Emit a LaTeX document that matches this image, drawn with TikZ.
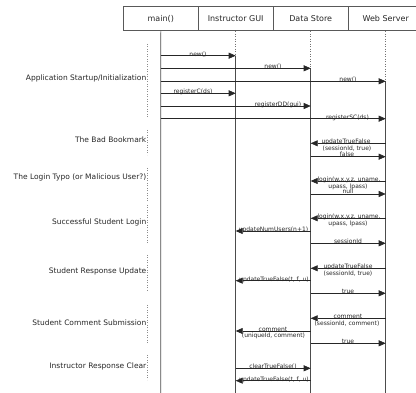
\documentclass[tikz,border=0pt]{standalone}
\usepackage{fontspec}
\setmainfont{DejaVu Sans}
\usetikzlibrary{arrows.meta}
\begin{document}
\begin{tikzpicture}[x=1pt,y=-1pt,
  hdr/.style={draw=black!65, line width=0.8pt, minimum width=75pt, minimum height=24pt, inner sep=0pt, font=\fontsize{8}{9}\selectfont, text=black!85},
  grp/.style={anchor=east, inner sep=0pt, font=\fontsize{7.5}{8}\selectfont, text=black!85},
  grpline/.style={draw=black!45, dotted, line width=0.5pt},
  life/.style={draw=black!70, line width=0.6pt},
  lifed/.style={draw=black!55, dotted, line width=0.5pt},
  msg/.style={draw=black!85, line width=0.6pt, -{Triangle[length=7pt,width=6pt]}},
  lbl/.style={font=\fontsize{6}{6.5}\selectfont, inner sep=0pt, anchor=base, text=black!85},
  lblb/.style={font=\fontsize{6}{6.5}\selectfont, inner sep=0pt, anchor=north, text=black!85}]
\useasboundingbox (0,0) rectangle (416,393);
\clip (0,0) rectangle (416,393);

% headers
\node[hdr] (hmain) at (160.8,18.7) {main()};
\node[hdr] (hgui)  at (235.7,18.7) {Instructor GUI};
\node[hdr] (hds)   at (310.7,18.7) {Data Store};
\node[hdr] (hws)   at (385.7,18.7) {Web Server};

% lifeline coordinates
\coordinate (Lm) at (160.7,393);
\coordinate (Lg0) at (235.7,55.7);  \coordinate (Lg) at (235.7,393);
\coordinate (Ld0) at (310.7,68.3);  \coordinate (Ld) at (310.7,393);
\coordinate (Lw0) at (385.7,81.3);  \coordinate (Lw) at (385.7,393);
\draw[life] (hmain.south) -- (Lm);
\draw[lifed] (hgui.south) -- (Lg0); \draw[life] (Lg0) -- (Lg);
\draw[lifed] (hds.south) -- (Ld0);  \draw[life] (Ld0) -- (Ld);
\draw[lifed] (hws.south) -- (Lw0);  \draw[life] (Lw0) -- (Lw);

% group labels
\node[grp] (g1) at (146.5,78.3) {Application Startup/Initialization};
\coordinate (g1a) at (147.5,44); \coordinate (g1b) at (147.5,117);
\draw[grpline] (g1a) -- (g1b);
\node[grp] (g2) at (146.5,140) {The Bad Bookmark};
\coordinate (g2a) at (147.5,130); \coordinate (g2b) at (147.5,155);
\draw[grpline] (g2a) -- (g2b);
\node[grp] (g3) at (146.5,177.7) {The Login Typo (or Malicious User?)};
\coordinate (g3a) at (147.5,168); \coordinate (g3b) at (147.5,202);
\draw[grpline] (g3a) -- (g3b);
\node[grp] (g4) at (146.5,222.7) {Successful Student Login};
\coordinate (g4a) at (147.5,205); \coordinate (g4b) at (147.5,243);
\draw[grpline] (g4a) -- (g4b);
\node[grp] (g5) at (146.5,271.7) {Student Response Update};
\coordinate (g5a) at (147.5,255); \coordinate (g5b) at (147.5,292);
\draw[grpline] (g5a) -- (g5b);
\node[grp] (g6) at (146.5,322.7) {Student Comment Submission};
\coordinate (g6a) at (147.5,305); \coordinate (g6b) at (147.5,343);
\draw[grpline] (g6a) -- (g6b);
\node[grp] (g7) at (146.5,366.7) {Instructor Response Clear};
\coordinate (g7a) at (147.5,355); \coordinate (g7b) at (147.5,380);
\draw[grpline] (g7a) -- (g7b);

% messages: startup
\coordinate (a1) at (160.7,55.7);  \coordinate (b1) at (235.7,55.7);
\draw[msg] (a1) -- (b1); \node[lbl] (t1) at (198,56.2) {new()};
\coordinate (a2) at (160.7,68.3);  \coordinate (b2) at (310.7,68.3);
\draw[msg] (a2) -- (b2); \node[lbl] (t2) at (273,68.8) {new()};
\coordinate (a3) at (160.7,81.3);  \coordinate (b3) at (385.7,81.3);
\draw[msg] (a3) -- (b3); \node[lbl] (t3) at (348,81.8) {new()};
\coordinate (a4) at (160.7,93.3);  \coordinate (b4) at (235.7,93.3);
\draw[msg] (a4) -- (b4); \node[lbl] (t4) at (193,93.8) {registerC(ds)};
\coordinate (a5) at (160.7,106);   \coordinate (b5) at (310.7,106);
\draw[msg] (a5) -- (b5); \node[lbl] (t5) at (278,106.5) {registerDD(gui)};
\coordinate (a6) at (160.7,118.7); \coordinate (b6) at (385.7,118.7);
\draw[msg] (a6) -- (b6); \node[lbl] (t6) at (347.5,119.2) {registerSC(ds)};

% bad bookmark
\coordinate (a7) at (385.7,143.3); \coordinate (b7) at (310.7,143.3);
\draw[msg] (a7) -- (b7);
\node[lbl] (t7) at (346,143.8) {updateTrueFalse};
\node[lblb] (t7b) at (347,145.3) {(sessionId, true)};
\coordinate (a8) at (310.7,156.7); \coordinate (b8) at (385.7,156.7);
\draw[msg] (a8) -- (b8); \node[lbl] (t8) at (347,156.2) {false};

% login typo
\coordinate (a9) at (385.7,181); \coordinate (b9) at (310.7,181);
\draw[msg] (a9) -- (b9);
\node[lbl] (t9) at (349,181.5) {login(w.x.y.z, uname,};
\node[lblb] (t9b) at (348,183.5) {upass, lpass)};
\coordinate (a10) at (310.7,194); \coordinate (b10) at (385.7,194);
\draw[msg] (a10) -- (b10); \node[lbl] (t10) at (348,193.5) {null};

% successful login
\coordinate (a11) at (385.7,218.3); \coordinate (b11) at (310.7,218.3);
\draw[msg] (a11) -- (b11);
\node[lbl] (t11) at (349,218.8) {login(w.x.y.z, uname,};
\node[lblb] (t11b) at (348,220.8) {upass, lpass)};
\coordinate (a12) at (310.7,231); \coordinate (b12) at (235.7,231);
\draw[msg] (a12) -- (b12); \node[lbl] (t12) at (273.5,231.5) {updateNumUsers(n+1)};
\coordinate (a13) at (310.7,243.3); \coordinate (b13) at (385.7,243.3);
\draw[msg] (a13) -- (b13); \node[lbl] (t13) at (348,243.8) {sessionId};

% response update
\coordinate (a14) at (385.7,268.3); \coordinate (b14) at (310.7,268.3);
\draw[msg] (a14) -- (b14);
\node[lbl] (t14) at (348,268.8) {updateTrueFalse};
\node[lblb] (t14b) at (348,270.3) {(sessionId, true)};
\coordinate (a15) at (310.7,280.7); \coordinate (b15) at (235.7,280.7);
\draw[msg] (a15) -- (b15); \node[lbl] (t15) at (274,281.2) {updateTrueFalse(t, f, u)};
\coordinate (a16) at (310.7,293.3); \coordinate (b16) at (385.7,293.3);
\draw[msg] (a16) -- (b16); \node[lbl] (t16) at (348,293.8) {true};

% comment submission
\coordinate (a17) at (385.7,318.3); \coordinate (b17) at (310.7,318.3);
\draw[msg] (a17) -- (b17);
\node[lbl] (t17) at (348,318.8) {comment};
\node[lblb] (t17b) at (347,320.3) {(sessionId, comment)};
\coordinate (a18) at (310.7,331); \coordinate (b18) at (235.7,331);
\draw[msg] (a18) -- (b18);
\node[lbl] (t18) at (273,331.5) {comment};
\node[lblb] (t18b) at (273.5,333) {(uniqueId, comment)};
\coordinate (a19) at (310.7,343.3); \coordinate (b19) at (385.7,343.3);
\draw[msg] (a19) -- (b19); \node[lbl] (t19) at (348,343.8) {true};

% instructor clear
\coordinate (a20) at (235.7,368.3); \coordinate (b20) at (310.7,368.3);
\draw[msg] (a20) -- (b20); \node[lbl] (t20) at (273,368.8) {clearTrueFalse()};
\coordinate (a21) at (310.7,380.7); \coordinate (b21) at (235.7,380.7);
\draw[msg] (a21) -- (b21); \node[lbl] (t21) at (274,381.2) {updateTrueFalse(t, f, u)};
\end{tikzpicture}
\end{document}
